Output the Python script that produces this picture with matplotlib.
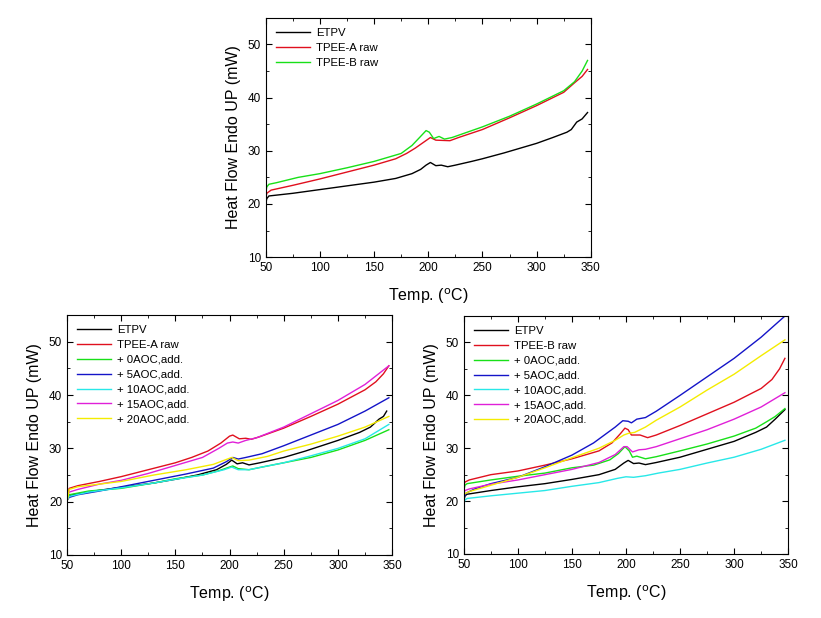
import matplotlib.pyplot as plt

plt.rcParams['font.family'] = ['Liberation Sans', 'DejaVu Sans']

# Top chart data
top_etpv_x = [50, 51, 53, 75, 100, 125, 150, 170, 185, 193, 198, 202, 207, 212, 218, 225, 240, 250, 270, 285, 300, 315, 328, 332, 337, 342, 347]
top_etpv_y = [20.0, 21.0, 21.5, 22.0, 22.7, 23.4, 24.1, 24.8, 25.7, 26.5, 27.3, 27.8, 27.2, 27.3, 27.0, 27.3, 28.0, 28.5, 29.6, 30.5, 31.4, 32.5, 33.5, 34.0, 35.4, 36.0, 37.2]
top_a_x = [50, 51, 55, 75, 100, 125, 150, 170, 180, 188, 195, 202, 207, 220, 228, 250, 275, 300, 325, 335, 342, 347]
top_a_y = [21.0, 22.0, 22.6, 23.5, 24.7, 26.0, 27.3, 28.5, 29.5, 30.5, 31.5, 32.5, 32.0, 31.9, 32.5, 34.0, 36.2, 38.5, 41.0, 42.8, 44.0, 45.3]
top_b_x = [50, 51, 53, 60, 80, 100, 125, 150, 175, 185, 192, 198, 201, 205, 210, 215, 222, 250, 275, 300, 325, 335, 342, 347]
top_b_y = [22.0, 23.2, 23.7, 24.0, 25.0, 25.7, 26.8, 28.0, 29.5, 31.0, 32.5, 33.8, 33.5, 32.3, 32.7, 32.2, 32.5, 34.5, 36.5, 38.8, 41.3, 43.0, 45.0, 47.0]

# Bottom-left chart data (TPEE-A series)
a_etpv_x = [50, 51, 55, 75, 100, 130, 150, 170, 188, 197, 202, 207, 212, 218, 228, 250, 270, 285, 300, 320, 330, 338, 342, 345]
a_etpv_y = [20.0, 21.0, 21.3, 22.0, 22.7, 23.5, 24.2, 25.0, 26.0, 27.0, 27.8, 27.1, 27.3, 26.9, 27.3, 28.3, 29.5, 30.5, 31.5, 33.0, 34.0, 35.5, 36.0, 37.0]
a_raw_x = [51, 52, 60, 80, 100, 125, 150, 165, 180, 192, 200, 203, 209, 215, 220, 228, 250, 275, 300, 325, 335, 342, 347]
a_raw_y = [21.5, 22.5, 23.0, 23.8, 24.7, 26.0, 27.3, 28.3, 29.5, 31.0, 32.3, 32.5, 31.8, 31.9, 31.7, 32.2, 33.8, 36.0, 38.3, 41.0, 42.5, 44.0, 45.5]
a_0_x = [51, 52, 70, 100, 130, 150, 175, 190, 200, 203, 208, 218, 230, 250, 275, 300, 325, 347]
a_0_y = [20.8, 21.3, 22.0, 22.5, 23.5, 24.3, 25.0, 25.8, 26.5, 26.7, 26.2, 26.0, 26.5, 27.3, 28.3, 29.7, 31.5, 33.5]
a_5_x = [51, 52, 60, 80, 100, 130, 160, 185, 197, 203, 208, 215, 230, 250, 275, 300, 325, 347]
a_5_y = [20.5, 20.8, 21.3, 22.0, 22.8, 24.0, 25.2, 26.3, 27.5, 28.3, 28.0, 28.3, 29.0, 30.5, 32.5, 34.5, 37.0, 39.5]
a_10_x = [51, 52, 70, 100, 130, 150, 175, 195, 202, 208, 218, 230, 250, 275, 300, 325, 347]
a_10_y = [20.6, 21.0, 21.8, 22.6, 23.5, 24.2, 25.0, 26.0, 26.5, 26.0, 26.0, 26.5, 27.3, 28.6, 30.0, 31.8, 34.5]
a_15_x = [51, 52, 60, 80, 100, 125, 150, 175, 190, 198, 203, 208, 215, 225, 250, 275, 300, 325, 347]
a_15_y = [21.3, 21.8, 22.3, 23.3, 24.0, 25.3, 26.8, 28.3, 30.0, 31.0, 31.2, 31.0, 31.5, 32.0, 34.0, 36.5, 39.0, 42.0, 45.5]
a_20_x = [50, 52, 60, 80, 100, 130, 160, 185, 202, 208, 218, 235, 250, 275, 300, 325, 347]
a_20_y = [19.8, 22.3, 22.8, 23.3, 23.8, 25.0, 26.0, 27.0, 28.3, 27.7, 27.8, 28.5, 29.5, 30.8, 32.3, 34.0, 36.0]

# Bottom-right chart data (TPEE-B series)
b_etpv_x = [50, 51, 53, 75, 100, 125, 150, 175, 190, 198, 202, 207, 212, 218, 228, 250, 270, 300, 320, 330, 338, 347]
b_etpv_y = [20.0, 21.0, 21.3, 22.0, 22.7, 23.3, 24.1, 25.0, 26.0, 27.2, 27.7, 27.1, 27.2, 26.9, 27.3, 28.3, 29.5, 31.3, 33.0, 34.0, 35.5, 37.3]
b_raw_x = [50, 51, 55, 75, 100, 125, 150, 175, 187, 195, 199, 202, 205, 210, 213, 220, 228, 250, 275, 300, 325, 335, 342, 347]
b_raw_y = [23.0, 23.6, 24.0, 25.0, 25.7, 26.8, 28.0, 29.5, 31.0, 32.8, 33.8, 33.5, 32.5, 32.5, 32.5, 32.0, 32.5, 34.3, 36.5, 38.7, 41.3, 43.0, 45.0, 47.0]
b_0_x = [50, 51, 53, 75, 100, 125, 150, 170, 185, 193, 199, 203, 206, 210, 218, 228, 250, 275, 300, 320, 330, 338, 347]
b_0_y = [22.0, 23.0, 23.3, 24.0, 24.7, 25.3, 26.3, 26.8, 27.8, 29.0, 30.3, 29.5, 28.3, 28.5, 28.0, 28.4, 29.5, 30.8, 32.3, 33.8, 35.0, 36.0, 37.5]
b_5_x = [51, 52, 60, 75, 100, 125, 150, 170, 180, 190, 197, 202, 205, 210, 218, 228, 250, 275, 300, 325, 347]
b_5_y = [21.0, 21.5, 22.3, 23.3, 24.5, 26.5, 28.7, 31.0, 32.5, 34.0, 35.2, 35.1, 34.8, 35.5, 35.8, 37.0, 40.0, 43.5, 47.0, 51.0, 55.0]
b_10_x = [50, 51, 53, 75, 100, 125, 150, 175, 192, 200, 207, 218, 230, 250, 275, 300, 325, 347]
b_10_y = [19.5, 20.2, 20.5, 21.0, 21.5, 22.0, 22.8, 23.5, 24.3, 24.6, 24.5, 24.8, 25.3, 26.0, 27.2, 28.3, 29.8, 31.5]
b_15_x = [50, 51, 55, 75, 100, 125, 150, 175, 190, 198, 201, 206, 212, 218, 228, 250, 275, 300, 325, 347]
b_15_y = [21.5, 22.0, 22.3, 23.2, 24.0, 25.0, 26.0, 27.3, 28.8, 30.3, 30.3, 29.3, 29.7, 29.8, 30.3, 31.8, 33.5, 35.5, 37.8, 40.5]
b_20_x = [50, 51, 55, 75, 100, 125, 150, 175, 190, 198, 202, 208, 218, 228, 250, 275, 300, 325, 347]
b_20_y = [21.0, 21.4, 21.8, 23.0, 24.5, 26.3, 28.2, 30.0, 31.5, 32.5, 32.8, 33.0, 34.0, 35.3, 37.8, 41.0, 44.0, 47.5, 50.5]

black = 'black'
red = '#e0101e'
green = '#18e018'
blue = '#1414c8'
cyan = '#28e8e8'
magenta = '#e020d8'
yellow = '#f4ec00'

add_labels = ['+ 0AOC,add.', '+ 5AOC,add.', '+ 10AOC,add.', '+ 15AOC,add.', '+ 20AOC,add.']


def style_axes(ax):
    ax.set_xlim(50, 350)
    ax.set_ylim(10, 55)
    ax.set_xticks(range(50, 351, 50))
    ax.set_xticks(range(75, 350, 50), minor=True)
    ax.set_yticks(range(10, 51, 10))
    ax.set_yticks(range(15, 56, 10), minor=True)
    ax.tick_params(which='both', direction='in', top=True, right=True, labelsize=8.5)
    ax.tick_params(which='major', length=4)
    ax.tick_params(which='minor', length=2)
    ax.set_xlabel('Temp. ($^{\\rm o}$C)', fontsize=11.5, labelpad=9)
    ax.set_ylabel('Heat Flow Endo UP (mW)', fontsize=11.5, labelpad=5)
    ax.legend(loc='upper left', frameon=False, fontsize=8.2, handlelength=3.0,
              handletextpad=0.5, labelspacing=0.42, borderaxespad=0.5)


fig = plt.figure(figsize=(8.21, 6.18), dpi=100)

# Top
ax1 = fig.add_axes([0.3236, 0.584, 0.396, 0.387])
ax1.plot(top_etpv_x, top_etpv_y, color=black, lw=1.0, label='ETPV')
ax1.plot(top_a_x, top_a_y, color=red, lw=1.0, label='TPEE-A raw')
ax1.plot(top_b_x, top_b_y, color=green, lw=1.0, label='TPEE-B raw')
style_axes(ax1)

# Bottom left
ax2 = fig.add_axes([0.0816, 0.102, 0.396, 0.388])
ax2.plot(a_etpv_x, a_etpv_y, color=black, lw=1.0, label='ETPV')
ax2.plot(a_raw_x, a_raw_y, color=red, lw=1.0, label='TPEE-A raw')
ax2.plot(a_0_x, a_0_y, color=green, lw=1.0, label=add_labels[0])
ax2.plot(a_5_x, a_5_y, color=blue, lw=1.0, label=add_labels[1])
ax2.plot(a_10_x, a_10_y, color=cyan, lw=1.0, label=add_labels[2])
ax2.plot(a_15_x, a_15_y, color=magenta, lw=1.0, label=add_labels[3])
ax2.plot(a_20_x, a_20_y, color=yellow, lw=1.0, label=add_labels[4])
style_axes(ax2)

# Bottom right
ax3 = fig.add_axes([0.565, 0.1036, 0.395, 0.385])
ax3.plot(b_etpv_x, b_etpv_y, color=black, lw=1.0, label='ETPV')
ax3.plot(b_raw_x, b_raw_y, color=red, lw=1.0, label='TPEE-B raw')
ax3.plot(b_0_x, b_0_y, color=green, lw=1.0, label=add_labels[0])
ax3.plot(b_5_x, b_5_y, color=blue, lw=1.0, label=add_labels[1])
ax3.plot(b_10_x, b_10_y, color=cyan, lw=1.0, label=add_labels[2])
ax3.plot(b_15_x, b_15_y, color=magenta, lw=1.0, label=add_labels[3])
ax3.plot(b_20_x, b_20_y, color=yellow, lw=1.0, label=add_labels[4])
style_axes(ax3)

fig.savefig('out.png', dpi=100)
